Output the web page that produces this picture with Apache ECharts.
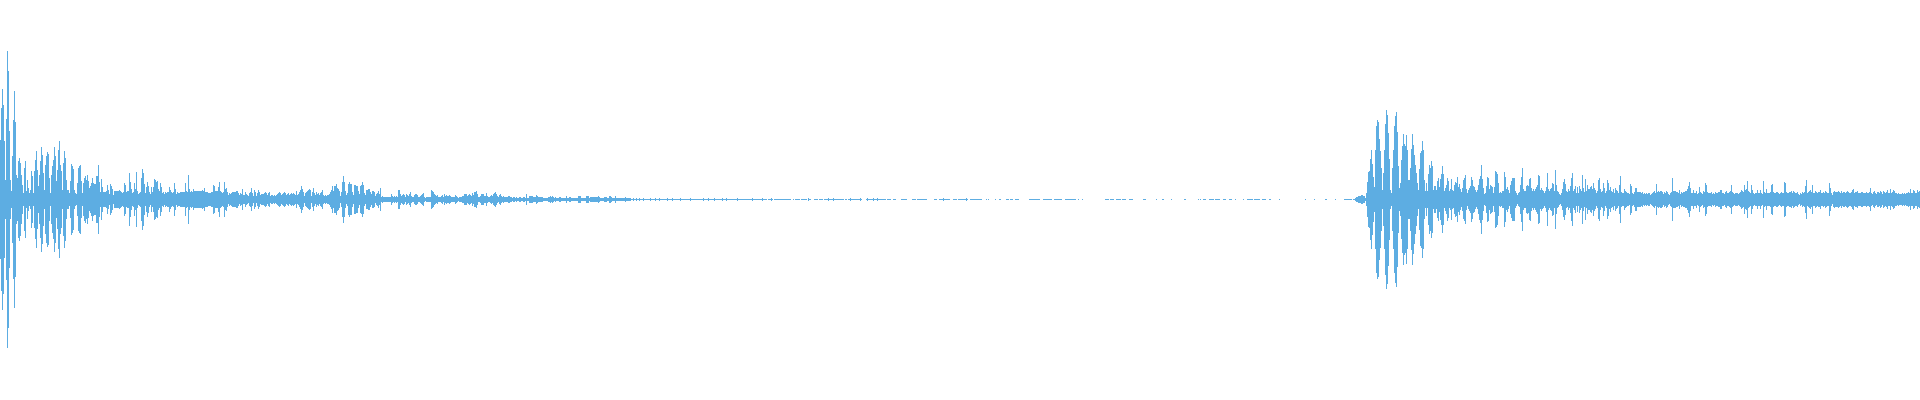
<!DOCTYPE html>
<html>
<head>
<meta charset="utf-8">
<style>html,body{margin:0;padding:0;background:#fff}#c{width:1920px;height:400px}</style>
<script src="https://cdn.jsdelivr.net/npm/echarts@6/dist/echarts.min.js"></script>
</head>
<body>
<div id="c"></div>
<script>
const sampleCount = 1920;
// amplitudes, one per sample
const burstA = [ // from sample 0
59,91,110,94,58,19,80,148,128,68,19,8,43,79,108,77,24,21,38,41,36,24,14,6,31,38,8,19,11,6,9,28,23,6,28,39,48,29,13,24,
38,52,44,26,9,34,43,47,45,21,6,24,33,39,52,43,18,29,49,58,34,28,9,36,48,41,19,9,9,6,18,35,33,30,9,6,5,16,31,33,
34,18,6,16,21,23,19,24,18,11,13,16,21,16,15,15];
const ripple = [ // from sample 96
23,23,34,17,7,20,12,7,7,7,8,14,9,5,15,13,10,4,8,8,
8,8,8,9,8,7,6,7,16,14,7,8,8,26,17,10,6,7,16,10,
27,8,5,6,7,21,30,26,15,6,12,17,13,7,5,12,7,12,20,19,
17,18,10,8,16,12,6,7,5,7,6,7,7,12,9,7,6,7,16,10,
5,7,6,6,7,7,7,7,7,16,8,7,24,10,7,8,7,10,8,8,
8,8,8,8,8,8,9,8,11,7,7,7,6,6,6,7,7,14,13,8,
8,8,12,17,8,7,6,7,17,10];
const shoulder = [ // from sample 226
11,7,4,6,5,6,7,7,7,7,8,8,6,4,6,5,10,4,4,7,
5,4,3,6,7,11,6,3,9,7,3,6,9,7,4,5,5,5,6,7,
6,4,6,7,3,4,4,3,4,3,4,5,6,7,6,4,5,6,7,6,
4,5,6,4,5,6,5,6,5,4,8,4,5,7,9,13,10,7,3,6,
7,8,9,10,9,3,7,11,6,4,7,5,6,4,6,7,9,4,3,4,
3,4,4,5,7,9,13,8,13,13,15,11,10,8,3,7,17,23,17,8];
const clusterEnd = [ // from sample 346
4,6,15,17,15,15,7,4,14,14,13,13,8,5,
13,14,17,14,6,4,9,9,10,10,7,5,8,8,7,3,5,6,8,5];
const fade = [ // from sample 380
11,2,3,2,2,2,2,2,2,2,2,5,3,2,3,2,3,2,9,9,
5,3,4,5,4,2,5,4,3,5,7,3,2,2,4,5,5,4,2,2,
3,4,5,6,2,1,2,2,2,2,2,9,8,7,5,4,3,4,2,2,
2,3,4,2,5,3,4,3,3,4,3,2,2,2,2,4,3,2,1,2,
2,2,3,3,5,5,5,3,4,5,4,3,6,4,7,7,8,5,2,2,
3,5,5,5,3,3,6,3,2,2,3,4,3,5,6,7,5,3,2,4,
5,3,2,3,2,2,2,2,3,3];
const fadeEnd = [ // from sample 510
2,2,1,2,2,1,2,1,1,2,
2,1,1,2,2,1,5,1,1,3,3,3,3,2,2,2,4,3,2,2,
2,2,2,1,1,1,1,1,2,2,3,2,3,2,1,2,1,1,1,2,
2,1,1,1,1,1,3,1,1,2,2,1,1,1,1,1,1,1,3,3,
3,1,1,1,1,1,3,3,3,1,2,2,2,2,2,2,2,2,3,2,
1,1,1,1,2,2,2,1,1,3,3,2,1,1,1,3,1,1,1,1,
1,1,1,1,1,2,1,1,1,1,1,.5,.5,1,.5,.5,1,.5,.5,1];
// sample ranges of the near-silent stretch, each with amplitude quietLevel
const quietLevel = 0.5;
const quietRanges = [
[640,741],[742,766],[768,772],[774,790],[793,793],[795,799],[801,806],[808,810],[814,817],[819,822],
[824,843],[845,846],[848,861],[866,885],[887,888],[889,890],[893,895],[901,906],[912,915],[917,926],
[934,935],[936,936],[939,949],[953,956],[958,967],[970,980],[981,981],[986,986],[988,988],[995,995],
[999,1000],[1006,1008],[1010,1012],[1015,1018],[1029,1030],[1031,1038],[1039,1039],[1043,1046],[1047,1051],
[1054,1057],[1058,1061],[1065,1068],[1069,1072],[1073,1075],[1078,1078],[1082,1082],[1105,1108],[1110,1113],
[1116,1120],[1122,1125],[1129,1132],[1143,1145],[1156,1156],[1162,1163],[1171,1171],[1184,1185],[1198,1198],
[1200,1200],[1203,1205],[1209,1213],[1215,1219],[1223,1225],[1229,1231],[1235,1235],[1243,1243],[1247,1252],
[1254,1259],[1262,1265],[1269,1270],[1279,1279],[1305,1305],[1314,1314],[1325,1326],[1335,1335],[1344,1347],
[1348,1351],[1353,1356]];
const quietBumpSamples = [643,650,655,659,667,672,680,690,703,708,714,722,726,737,752,762,771,808,828,833,850,860,867,873,877,943,966];
const quietBumpLevel = 1;
const onset = [1,2,2,3,3,3,4,4,3,3,1]; // from sample 1355
const burstC = [ // from sample 1366
6,17,27,28,40,49,35,22,12,49,73,79,77,60,48,31,9,26,49,75,89,84,66,40,9,6,31,49,73,83,87,67,33,11,16,39,53,65,55,53,
64,49,19,19,31,50,65,54,44,34,26,16,9,30,46,48,58,49,19,8,16,8,25,34,31,38,33,9,13,13,9,18,21,12,20,25,33,25,
8,11,14,21,18,8,10,20,9,8,14,17,16,22,12,15,10,7,11,19,21,24,10,6,9,11,13,22,19,13,12,9,7,9,14,20,23,34,20,11,
5,6,13,22,21,10,14,13,12,6,12,28,27,25,16,6,7,6,8,8,27,22,10,12,9,6,14,18,21,21,21,8,6,4,6,7,14,22,31,10,
8,8,13,14,13,20,21,11,8,10,8,10,12,14,24,23,9,11,9,8,6,8,12,26,10,8,10,11,16,15,8,29,14,8,7,5,4,6,10,17,
20,15,8,7,10,8,13,21,26,8,10,13,6,12,6,13,10,8,24,11,7,20,8,14,10,10];
const tail = [ // from sample 1590
12,13,10,16,11,9,6,8,19,21,10,7,8,16,11,6,8,19,16,9,12,8,7,10,6,11,9,8,6,14,
23,7,6,6,10,8,7,6,6,5,15,13,6,5,7,11,11,7,7,7,7,6,7,5,6,5,6,5,6,6,
4,5,6,7,8,6,15,7,8,7,8,8,7,5,7,6,8,7,5,4,6,7,21,8,8,8,7,7,6,9,
5,7,6,7,7,8,8,10,13,17,11,6,6,9,6,6,8,5,6,12,7,6,5,8,7,16,14,7,6,6,
6,7,5,6,5,7,6,6,7,7,9,9,6,6,5,7,8,6,6,7,8,14,7,6,5,6,6,6,5,6,
7,9,8,7,14,9,10,18,8,7,6,14,9,6,5,6,6,9,6,6,9,6,5,18,7,6,10,6,6,6,
7,14,15,7,6,6,7,7,6,5,6,7,6,6,17,16,7,6,6,7,7,8,6,8,7,6,6,7,5,4,
6,5,7,6,7,13,19,6,7,8,9,7,14,6,6,8,7,6,7,7,9,6,6,7,6,8,7,6,6,16,
11,6,4,7,8,7,7,7,8,7,6,8,6,7,7,6,7,8,7,6,6,7,9,10,6,7,7,8,6,6,
6,7,7,6,6,6,7,6,6,7,11,6,5,7,8,6,5,7,7,6,8,7,5,8,7,6,7,9,6,6,
10,6,7,9,8,6,6,5,6,5,5,5,6,5,6,5,6,6,7,6,10,6,6,9,8,6,6,9,7,8];

const categories = Array.from({length: sampleCount}, (_, i) => i);
const peaks = new Array(sampleCount).fill(0);
const put = (start, values) => values.forEach((v, i) => { if (start + i < sampleCount) peaks[start + i] = v; });
put(0, burstA);
put(96, ripple);
put(226, shoulder);
put(346, clusterEnd);
put(380, fade);
put(510, fadeEnd);
quietRanges.forEach(([a, b]) => { for (let i = a; i <= b; i++) peaks[i] = quietLevel; });
quietBumpSamples.forEach(i => { peaks[i] = quietBumpLevel; });
put(1355, onset);
put(1366, burstC);
put(1590, tail);

const waveColor = '#5DADE2';
const chart = echarts.init(document.getElementById('c'), null, {renderer: 'canvas'});
chart.setOption({
  animation: false,
  backgroundColor: '#ffffff',
  grid: {left: 0, right: 0, top: 0, bottom: 0},
  xAxis: {type: 'category', data: categories, show: false, boundaryGap: true},
  yAxis: {type: 'value', min: -200.5, max: 199.5, show: false},
  series: [{
    type: 'custom',
    silent: true,
    progressive: 0,
    encode: {x: 0, y: 1},
    data: peaks.map((v, i) => [i, v]),
    renderItem: (params, api) => {
      const amp = api.value(1);
      if (!amp) return null;
      const top = api.coord([api.value(0), amp]);
      const bottom = api.coord([api.value(0), -amp]);
      const w = api.size([1, 0])[0];
      const y0 = Math.floor(top[1]);
      const y1 = Math.ceil(bottom[1]);
      return {type: 'rect', shape: {x: Math.round(top[0] - w / 2), y: y0, width: w, height: y1 - y0}, style: {fill: waveColor}};
    }
  }]
});
</script>
</body>
</html>
